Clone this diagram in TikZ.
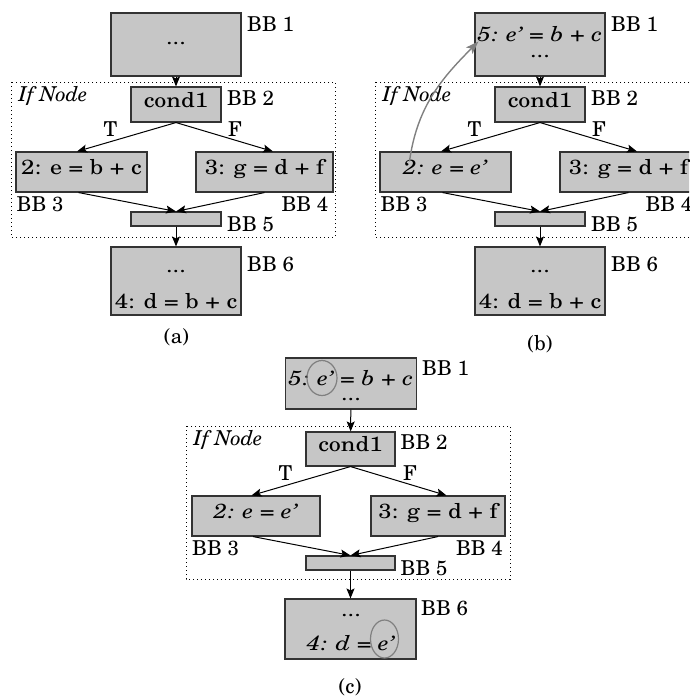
\documentclass[tikz,border=0pt]{standalone}
\usepackage{fontspec}
\setmainfont{TeX Gyre Schola}[FakeStretch=1.17]
\newfontfamily\tagfont{TeX Gyre Schola}
\usetikzlibrary{
  arrows.meta,
  positioning,
  calc
}

\begin{document}
\begin{tikzpicture}[x=1pt, y=-1pt, font=\fontsize{20.5}{24}\selectfont,
  bb/.style={draw=black!80, line width=1.1pt, fill=gray!45, inner sep=0pt},
  stmt/.style={text height=1.5ex, text depth=.25ex},
  bbname/.style={anchor=base west, inner sep=0pt, font=\fontsize{20.5}{24}\tagfont},
  flow/.style={-{Stealth[length=10pt, width=8pt, inset=2pt]}, line width=1pt},
  ifframe/.style={line width=0.9pt, dash pattern=on 1pt off 3pt},
  reuse/.style={gray, line width=1.4pt, -{Stealth[length=13pt, width=9pt, inset=3pt]}},
  hilite/.style={gray, line width=1.2pt}]
  \useasboundingbox (0,0) rectangle (689,698);
  \clip (0,0) rectangle (689,698);

  % (a)
  \begin{scope}
    \node[bb, minimum width=130, minimum height=63] (a-bb1) at (176,44.5) {};
    \node[anchor=base] (a-dots1) at (176,45) {...};
    \node[bbname] (a-l1) at (247,31.7) {BB 1};
    \draw[ifframe] (11,82) rectangle (335,237);
    \node[bbname] (a-if) at (18.5,101.7) {\textit{If Node}};
    \node[bb, stmt, minimum width=90, minimum height=35] (a-cond) at (176,104.5) {cond1};
    \node[bbname] (a-l2) at (227,105.3) {BB 2};
    \node[bb, stmt, minimum width=131, minimum height=40] (a-bb3) at (81.5,172) {2: e = b + c};
    \node[bb, stmt, minimum width=137, minimum height=40] (a-bb4) at (264.5,172) {3: g = d + f};
    \node[bbname] (a-l3) at (16.5,211.7) {BB 3};
    \node[bbname, anchor=base east] (a-l4) at (328.5,211.7) {BB 4};
    \node[bb, minimum width=90, minimum height=14] (a-bb5) at (176,219) {};
    \node[bbname] (a-l5) at (227,231.7) {BB 5};
    \node[bb, minimum width=130, minimum height=68] (a-bb6) at (176,281) {};
    \node[anchor=base] (a-dots6) at (176,272) {...};
    \node[anchor=base] (a-s4) at (176,308) {4: d = b + c};
    \node[bbname] (a-l6) at (247,271.7) {BB 6};
    \node[bbname, anchor=base] (a-t) at (110.5,136.7) {T};
    \node[bbname, anchor=base] (a-f) at (235,136.7) {F};
    \node[bbname, anchor=base] (a-cap) at (176.5,343) {(a)};

    \draw[flow] (a-bb1) -- (a-cond);
    \draw[flow] (a-cond.south) -- ([xshift=-4.5pt]a-bb3.north);
    \draw[flow] (a-cond.south) -- ([xshift=8.5pt]a-bb4.north);
    \draw[flow] ([xshift=-3pt]a-bb3.south) -- (a-bb5.north);
    \draw[flow] (a-bb4.south) -- (a-bb5.north);
    \draw[flow] (a-bb5) -- (a-bb6);
  \end{scope}

  % (b)
  \begin{scope}[shift={(364,0)}]
    \node[bb, minimum width=130, minimum height=63] (b-bb1) at (176,44.5) {};
    \node[anchor=base] (b-s5) at (176,42) {\textit{5: e' = b + c}};
    \node[anchor=base] (b-dots1) at (176,58) {...};
    \node[bbname] (b-l1) at (247,31.7) {BB 1};
    \draw[ifframe] (11,82) rectangle (335,237);
    \node[bbname] (b-if) at (18.5,101.7) {\textit{If Node}};
    \node[bb, stmt, minimum width=90, minimum height=35] (b-cond) at (176,104.5) {cond1};
    \node[bbname] (b-l2) at (227,105.3) {BB 2};
    \node[bb, stmt, minimum width=131, minimum height=40] (b-bb3) at (81.5,172) {\textit{2: e = e'}};
    \node[bb, stmt, minimum width=137, minimum height=40] (b-bb4) at (264.5,172) {3: g = d + f};
    \node[bbname] (b-l3) at (16.5,211.7) {BB 3};
    \node[bbname, anchor=base east] (b-l4) at (328.5,211.7) {BB 4};
    \node[bb, minimum width=90, minimum height=14] (b-bb5) at (176,219) {};
    \node[bbname] (b-l5) at (227,231.7) {BB 5};
    \node[bb, minimum width=130, minimum height=68] (b-bb6) at (176,281) {};
    \node[anchor=base] (b-dots6) at (176,272) {...};
    \node[anchor=base] (b-s4) at (176,308) {4: d = b + c};
    \node[bbname] (b-l6) at (247,271.7) {BB 6};
    \node[bbname, anchor=base] (b-t) at (110.5,136.7) {T};
    \node[bbname, anchor=base] (b-f) at (235,136.7) {F};
    \node[bbname, anchor=base] (b-cap) at (176,350) {(b)};

    \draw[flow] (b-bb1) -- (b-cond);
    \draw[flow] (b-cond.south) -- ([xshift=-4.5pt]b-bb3.north);
    \draw[flow] (b-cond.south) -- ([xshift=8.5pt]b-bb4.north);
    \draw[flow] ([xshift=-3pt]b-bb3.south) -- (b-bb5.north);
    \draw[flow] (b-bb4.south) -- (b-bb5.north);
    \draw[flow] (b-bb5) -- (b-bb6);
    \draw[reuse] ([xshift=30pt,yshift=-10pt]b-bb3.north west)
      to[out=82, in=-135] ([xshift=4pt,yshift=-29pt]b-bb1.north west);
  \end{scope}

  % (c)
  \begin{scope}[shift={(175,344)}]
    \node[bb, minimum width=131, minimum height=51] (c-bb1) at (176,39.5) {};
    \node[anchor=base] (c-s5) at (176,41) {\textit{5: e' = b + c}};
    \node[anchor=base] (c-dots1) at (176,56) {...};
    \node[bbname] (c-l1) at (247,31.7) {BB 1};
    \draw[ifframe] (11,82) rectangle (335,235);
    \node[bbname] (c-if) at (18.5,101.7) {\textit{If Node}};
    \node[bb, stmt, minimum width=89, minimum height=34] (c-cond) at (175.5,105) {cond1};
    \node[bbname] (c-l2) at (225.5,105.3) {BB 2};
    \node[bb, stmt, minimum width=128, minimum height=40] (c-bb3) at (81,172) {\textit{2: e = e'}};
    \node[bb, stmt, minimum width=134, minimum height=40] (c-bb4) at (263,172) {3: g = d + f};
    \node[bbname] (c-l3) at (17,211.7) {BB 3};
    \node[bbname, anchor=base east] (c-l4) at (328,211.7) {BB 4};
    \node[bb, minimum width=89, minimum height=14] (c-bb5) at (175.5,219) {};
    \node[bbname] (c-l5) at (225.5,231.7) {BB 5};
    \node[bb, minimum width=131, minimum height=60] (c-bb6) at (175.5,285) {};
    \node[anchor=base] (c-dots6) at (176,272) {...};
    \node[anchor=base] (c-s4) at (176,306) {\textit{4: d = e'}};
    \node[bbname] (c-l6) at (246,271.7) {BB 6};
    \node[bbname, anchor=base] (c-t) at (110.5,136.7) {T};
    \node[bbname, anchor=base] (c-f) at (235,136.7) {F};
    \node[bbname, anchor=base] (c-cap) at (175,349) {(c)};

    \draw[flow] (c-bb1) -- (c-cond);
    \draw[flow] (c-cond.south) -- ([xshift=-4.5pt]c-bb3.north);
    \draw[flow] (c-cond.south) -- ([xshift=8.5pt]c-bb4.north);
    \draw[flow] ([xshift=-3pt]c-bb3.south) -- (c-bb5.north);
    \draw[flow] (c-bb4.south) -- (c-bb5.north);
    \draw[flow] (c-bb5) -- (c-bb6);
    \draw[hilite] (147,34) ellipse [x radius=15, y radius=17.5];
    \draw[hilite] (209.5,295) ellipse [x radius=14, y radius=19];
  \end{scope}
\end{tikzpicture}
\end{document}
